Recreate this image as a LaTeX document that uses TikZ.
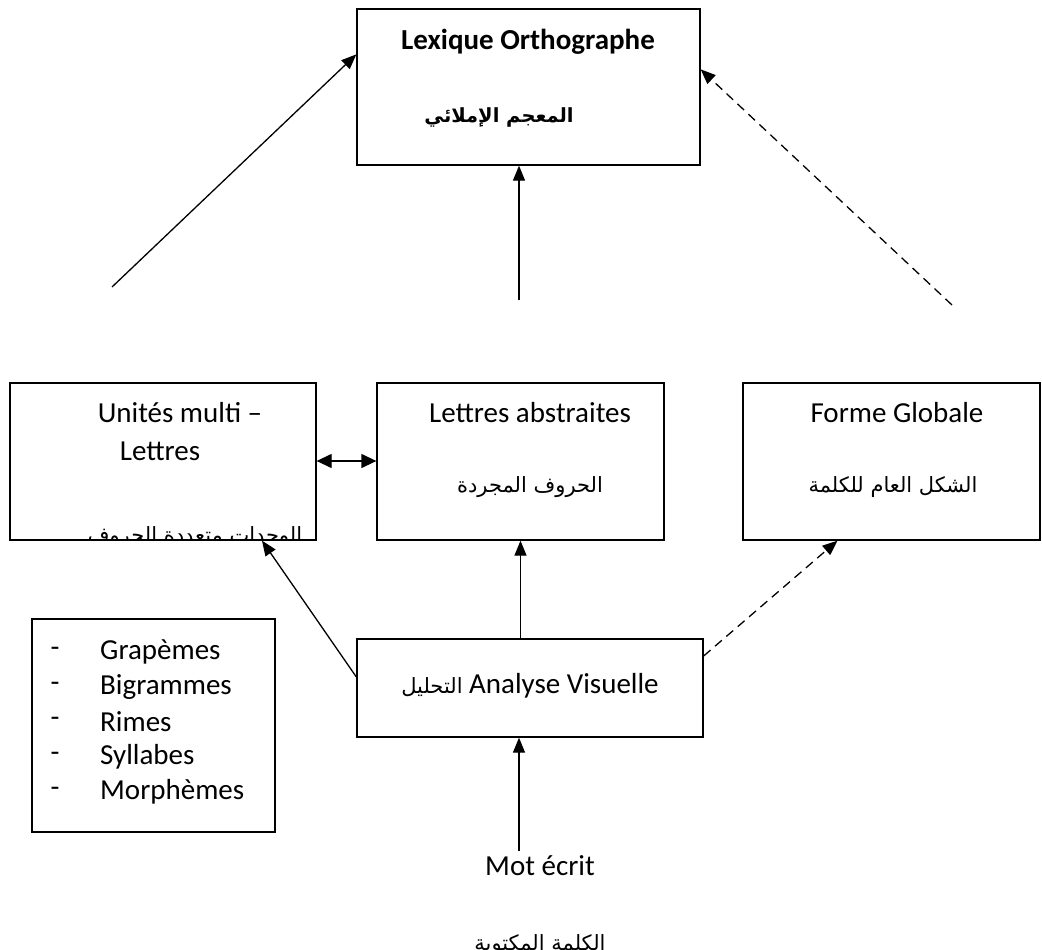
\documentclass[tikz,border=0pt]{standalone}
\usepackage{fontspec}
\setmainfont{Carlito}
\newfontfamily\arabicfont[Script=Arabic]{DejaVu Sans}
\TeXXeTstate=1
\usetikzlibrary{arrows.meta}

\tikzset{
  box/.style={draw, line width=1.3pt, rectangle, inner sep=0pt},
  lbl/.style={inner sep=0pt, font=\fontsize{29}{35}\selectfont},
  arlbl/.style={inner sep=0pt, font=\arabicfont\fontsize{21}{26}\selectfont},
  conn/.style={line width=1.3pt, -{Triangle[length=15pt,width=12pt]}},
  dconn/.style={conn, dash pattern=on 9pt off 6pt},
  bothconn/.style={line width=1.3pt, {Triangle[length=15pt,width=14pt]}-{Triangle[length=15pt,width=14pt]}}
}

\begin{document}
\begin{tikzpicture}[x=1pt,y=-1pt]
  \useasboundingbox (0,0) rectangle (1042,950);

  % boxes
  \node[box, minimum width=343pt, minimum height=156pt] (lex) at (528.5,87) {};
  \node[box, minimum width=306pt, minimum height=157pt] (uni) at (163,461.5) {};
  \node[box, minimum width=287pt, minimum height=157pt] (let) at (520.5,461.5) {};
  \node[box, minimum width=297pt, minimum height=157pt] (for) at (891.5,461.5) {};
  \node[box, minimum width=346pt, minimum height=98pt] (ana) at (530,688) {};
  \node[box, minimum width=243pt, minimum height=213pt] (lst) at (153.5,725.5) {};

  % top box texts
  \node[lbl, font=\bfseries\fontsize{29}{35}\selectfont] (lexfr) at (528,42) {Lexique Orthographe};
  \node[arlbl, font=\arabicfont\bfseries\fontsize{19.5}{24}\selectfont] (lexar) at (499,117) {\beginR المعجم الإملائي\endR};

  % multi-letter units (the Arabic line overflows the box and is cut at its bottom)
  \node[lbl] (unifr1) at (180,413) {Unités multi –};
  \node[lbl] (unifr2) at (160,451) {Lettres};
  \begin{scope}
    \clip (uni.north west) rectangle (uni.south east);
    \node[arlbl] (uniar) at (195,537) {\beginR الوحدات متعددة الحروف\endR};
  \end{scope}

  % abstract letters
  \node[lbl] (letfr) at (530,413) {Lettres abstraites};
  \node[arlbl] (letar) at (530,487) {\beginR الحروف المجردة\endR};

  % global shape
  \node[lbl] (forfr) at (897,413) {Forme Globale};
  \node[arlbl] (forar) at (893,487) {\beginR الشكل العام للكلمة\endR};

  % visual analysis
  \node[lbl] (anatx) at (530,686) {{\arabicfont\fontsize{21}{26}\selectfont\beginR التحليل\endR}\ Analyse Visuelle};

  % list of units
  \foreach \i/\w/\y in {1/Grapèmes/652, 2/Bigrammes/687, 3/Rimes/722, 4/Syllabes/757, 5/Morphèmes/792}{
    \node[lbl] (dash\i) at (55,\y) {-};
    \node[lbl, anchor=west] (item\i) at (100,\y) {\w};
  }

  % written word
  \node[lbl] (motfr) at (540,866) {Mot écrit};
  \begin{scope}
    \clip (0,0) rectangle (1042,950);
    \node[arlbl] (motar) at (540,945) {\beginR الكلمة المكتوبة\endR};
  \end{scope}

  % free ends of connectors
  \coordinate (lfoot) at (112,287);
  \coordinate (mfoot) at (519,300);
  \coordinate (rfoot) at (952,305);
  \coordinate (wordtop) at (519,851);
  \coordinate (dbl) at (0,461);

  % connectors
  \draw[conn] (lfoot) -- ([yshift=-46pt]lex.north west);
  \draw[conn] (mfoot) -- (lex.south -| mfoot);
  \draw[dconn] (rfoot) -- ([yshift=-61pt]lex.north east);
  \draw[bothconn] (uni.east |- dbl) -- (let.west |- dbl);
  \draw[conn] (ana.north -| let.south) -- (let.south);
  \draw[conn] ([yshift=11pt]ana.west) -- ([xshift=99pt]uni.south);
  \draw[dconn] ([yshift=32pt]ana.east) -- ([xshift=-54pt]for.south);
  \draw[conn] (wordtop) -- (ana.south -| wordtop);
\end{tikzpicture}
\end{document}
